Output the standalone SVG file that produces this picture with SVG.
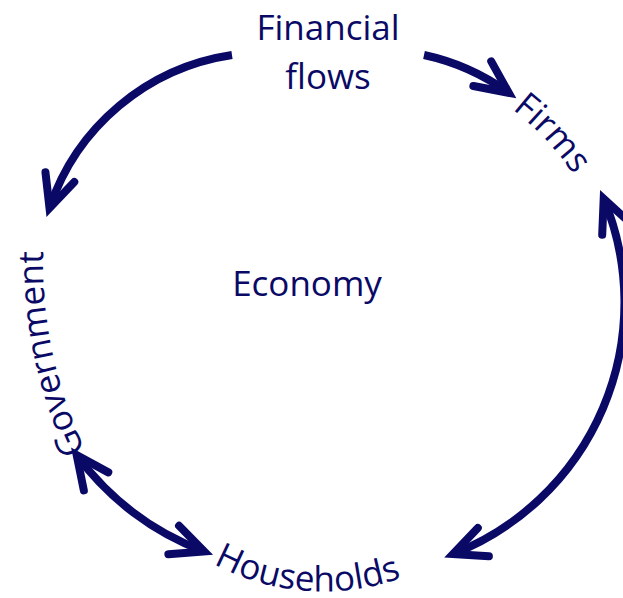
<svg xmlns="http://www.w3.org/2000/svg" width="623" height="598" viewBox="0 0 623 598">
  <style>
    .lbl { font-family: "Open Sans", "Noto Sans", "Liberation Sans", sans-serif; font-size: 35px; fill: #0a0a66; }
    .flow { fill: none; stroke: #0a0a66; stroke-width: 8; stroke-linecap: butt; }
    .head { fill: none; stroke: #0a0a66; stroke-width: 8; stroke-linecap: round; stroke-linejoin: miter; stroke-miterlimit: 10; }
  </style>
  <defs>
    <marker id="arrow" viewBox="-45 -25 57 50" markerWidth="57" markerHeight="50" refX="0" refY="0" orient="auto-start-reverse" markerUnits="userSpaceOnUse" overflow="visible">
      <path class="head" d="M -32.6 -15.2 L 0 0 L -32.6 15.2"/>
    </marker>
    <path id="firmsPath" d="M 434.5 66.2 A 285 285 0 0 1 611 255.5"/>
    <path id="govPath" d="M 123.3 515.7 A 444 444 0 0 1 51.2 176.3"/>
    <path id="housePath" d="M 193.6 551.6 A 230 230 0 0 0 422.9 568.7"/>
  </defs>
  <rect width="623" height="598" fill="#ffffff"/>

  <g id="connectors">
    <path class="flow" marker-end="url(#arrow)" d="M 232 55 A 228 228 0 0 0 49.5 208"/>
    <path class="flow" marker-end="url(#arrow)" d="M 424 55 A 225 225 0 0 1 508.7 92.8"/>
    <path class="flow" marker-start="url(#arrow)" marker-end="url(#arrow)" d="M 603.7 198.8 A 270 270 0 0 1 453 554"/>
    <path class="flow" marker-start="url(#arrow)" marker-end="url(#arrow)" d="M 76.7 455.2 A 282 282 0 0 0 204.2 551.5"/>
  </g>

  <g id="financial-flows">
    <text class="lbl" x="328" y="40" text-anchor="middle">Financial</text>
    <text class="lbl" x="328" y="89" text-anchor="middle">flows</text>
  </g>

  <g id="economy">
    <text class="lbl" x="307" y="296" text-anchor="middle">Economy</text>
  </g>

  <g id="firms">
    <text class="lbl"><textPath href="#firmsPath" startOffset="50%" text-anchor="middle">Firms</textPath></text>
  </g>

  <g id="government">
    <text class="lbl"><textPath href="#govPath" startOffset="50%" text-anchor="middle">Government</textPath></text>
  </g>

  <g id="households">
    <text class="lbl"><textPath href="#housePath" startOffset="50%" text-anchor="middle">Households</textPath></text>
  </g>
</svg>
